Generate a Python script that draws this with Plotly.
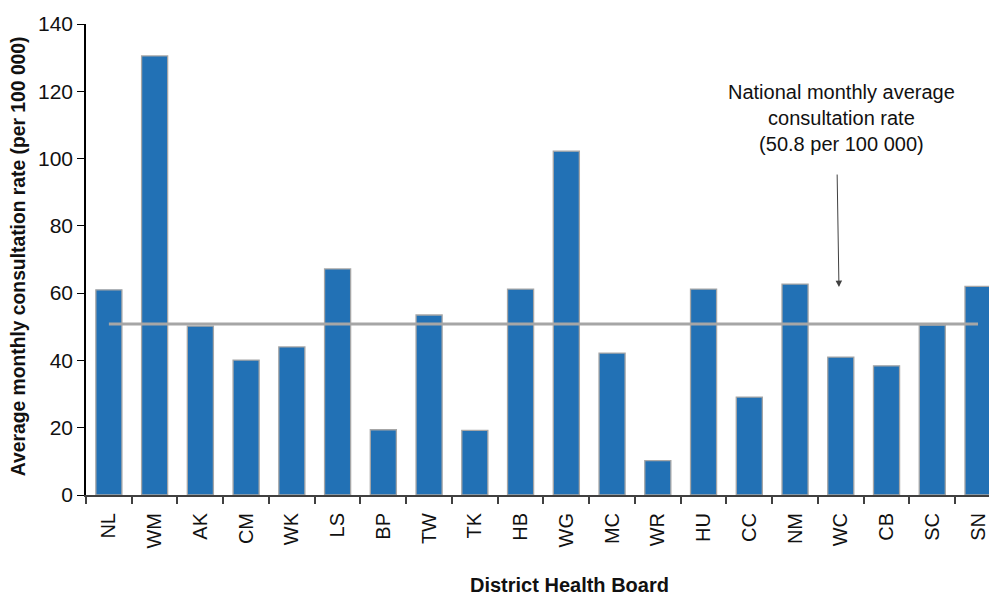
import plotly.graph_objects as go

districts = ["NL", "WM", "AK", "CM", "WK", "LS", "BP", "TW", "TK", "HB",
             "WG", "MC", "WR", "HU", "CC", "NM", "WC", "CB", "SC", "SN"]
rates = [61.0, 130.5, 50.2, 40.1, 44.0, 67.2, 19.4, 53.5, 19.2, 61.2,
         102.2, 42.2, 10.2, 61.2, 29.1, 62.7, 41.0, 38.4, 50.5, 62.0]
national_avg = 50.8

FONT = "Liberation Sans, Arial, sans-serif"

fig = go.Figure()
fig.add_trace(go.Bar(
    x=list(range(len(districts))), y=rates,
    width=0.57,
    marker=dict(color="#2271B5", line=dict(color="#A6A6A6", width=1.3)),
    showlegend=False,
))
fig.add_trace(go.Scatter(
    x=[0, len(districts) - 1], y=[national_avg, national_avg],
    mode="lines", line=dict(color="#A6A6A6", width=3),
    showlegend=False,
))

fig.add_annotation(
    x=15.96, y=61.8, ax=15.92, ay=95.7, xref="x", yref="y", axref="x", ayref="y",
    showarrow=True, arrowhead=2, arrowsize=1.3, arrowwidth=1, arrowcolor="#404040",
    text="",
)
fig.add_annotation(
    x=16.02, y=112.2, xref="x", yref="y", showarrow=False,
    text="National monthly average<br>consultation rate<br>(50.8 per 100 000)",
    font=dict(family=FONT, size=20, color="#111"), align="center",
    yanchor="middle",
)
fig.add_annotation(
    x=0, xshift=-68, y=0.507, xref="paper", yref="paper", showarrow=False,
    text="<b>Average monthly consultation rate (per 100 000)</b>", textangle=-90,
    font=dict(family=FONT, size=19.3, color="#111"), xanchor="center", yanchor="middle",
)
fig.add_annotation(
    x=0.535, y=-0.192, xref="paper", yref="paper", showarrow=False,
    text="<b>District Health Board</b>",
    font=dict(family=FONT, size=20, color="#111"), xanchor="center", yanchor="middle",
)

fig.update_layout(
    width=989, height=597,
    margin=dict(l=86, r=0, t=24, b=102, autoexpand=False),
    plot_bgcolor="white", paper_bgcolor="white",
    font=dict(family=FONT, color="#111"),
    xaxis=dict(
        range=[-0.5, 19.24], automargin=False,
        tickmode="array", tickvals=list(range(len(districts))), ticktext=districts,
        tickangle=-90, tickfont=dict(size=20, family=FONT),
        showline=True, linecolor="#404040", linewidth=2,
        ticks="", showgrid=False, zeroline=False, ticklabelstandoff=8,
    ),
    yaxis=dict(
        range=[0, 140], tickvals=[0, 20, 40, 60, 80, 100, 120, 140], automargin=False,
        tickfont=dict(size=21, family=FONT),
        showline=True, linecolor="#000", linewidth=1.5,
        ticks="outside", ticklen=7, tickcolor="#000",
        showgrid=False, zeroline=False,
    ),
)

fig.update_xaxes(minor=dict(tickvals=[i - 0.5 for i in range(len(districts) + 1)],
                            ticks="outside", ticklen=7, tickcolor="#404040", tickwidth=1.5))

fig.write_html("out.html", config={"displayModeBar": False},
               post_script="document.body.style.margin='0';document.body.style.overflow='hidden';")
